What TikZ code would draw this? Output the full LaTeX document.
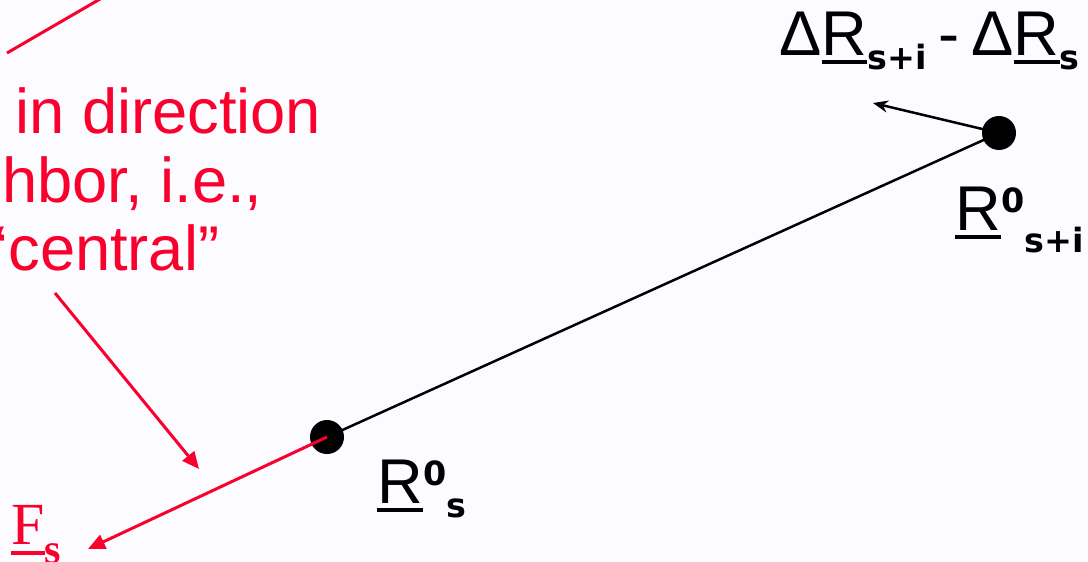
\documentclass[tikz,border=0pt]{standalone}
\usepackage{fontspec}
\setmainfont{Liberation Sans}
\newfontfamily\serifF{Liberation Serif}
\newfontfamily\idxfont{DejaVu Sans}
\usepackage{xcolor}
\usepackage{tikz}
\usetikzlibrary{arrows.meta}
\definecolor{slidered}{RGB}{250,0,45}
\definecolor{slidebg}{RGB}{252,251,255}
\newcommand\mainsz{\fontsize{36}{39}\selectfont}
\newcommand\subsz{\idxfont\fontsize{19}{21}\selectfont\bfseries}
\newcommand\barred[2][-0.18cm]{\setbox0\hbox{#2}\rlap{\rule[#1]{\wd0}{0.08cm}}\box0}

\begin{document}
\begin{tikzpicture}[
      x=0.02cm, y=-0.02cm,
      lbl/.style={anchor=base west, inner sep=0pt, font=\mainsz},
      dot/.style={circle, fill=black, minimum size=0.68cm, inner sep=0pt},
      blk/.style={line width=0.05cm, black},
      rd/.style={line width=0.06cm, slidered}
  ]
  \useasboundingbox[fill=slidebg] (0,0) rectangle (1088,561);

  \node[lbl, text=slidered] (dirA) at (15,133) {in direction};
  \node[lbl, text=slidered] (dirB) at (2,202) {hbor, i.e.,};
  \node[lbl, text=slidered] (dirC) at (-6,270) {‘central”};

  \node[lbl] (delta) at (779,55) {Δ\barred{R}\raisebox{-0.3cm}{\subsz s+i}\hspace{0.24cm}-\hspace{0.24cm}Δ\barred{R}\raisebox{-0.3cm}{\subsz s}};
  \node[lbl] (lblRsi) at (955,230) {\barred{R}\raisebox{0.36cm}{\subsz 0}\raisebox{-0.46cm}{\subsz s+i}};
  \node[lbl] (lblRs) at (377,503) {\barred{R}\raisebox{0.36cm}{\subsz 0}\raisebox{-0.28cm}{\subsz s}};
  \node[lbl, text=slidered, font=\serifF\fontsize{34}{36}\selectfont] (lblF) at (11,544) {\barred[-0.22cm]{F}\raisebox{-0.38cm}{\fontsize{24}{26}\selectfont\bfseries s}};

  \coordinate (edgeA) at (7,53);
  \coordinate (edgeB) at (107,-5);
  \coordinate (ptrA) at (55,293);
  \coordinate (ptrB) at (199,469);
  \coordinate (dRtip) at (873,103);
  \coordinate (Ftip) at (88,549);

  \draw[blk] (327,437) -- (999,133);
  \node[dot] (Rs) at (327,437) {};
  \node[dot] (Rsi) at (999,133) {};

  \draw[blk, -{Stealth[length=0.3cm, width=0.24cm]}] (Rsi.center) -- (dRtip);
  \draw[rd] (edgeA) -- (edgeB);
  \draw[rd, -{Triangle[length=0.34cm, width=0.3cm]}] (ptrA) -- (ptrB);
  \draw[rd, -{Triangle[length=0.34cm, width=0.3cm]}] (Rs.center) -- (Ftip);
\end{tikzpicture}
\end{document}
